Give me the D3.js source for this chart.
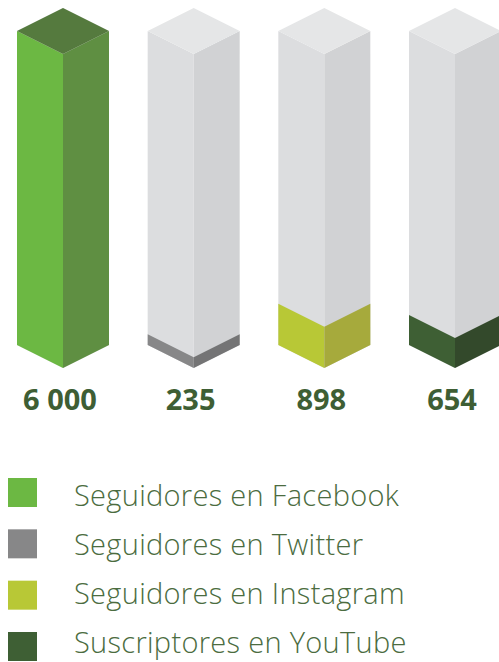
<!DOCTYPE html>
<html>
<head>
<meta charset="utf-8">
<script src="https://cdn.jsdelivr.net/npm/d3@7"></script>
<style>
  body { margin: 0; background: #fff; }
  svg { display: block; }
</style>
</head>
<body>
<svg id="chart"></svg>
<script>
var categories = ["Facebook", "Twitter", "Instagram", "YouTube"]
var values = [6000, 235, 898, 654]
var valueLabels = ["6 000", "235", "898", "654"]
var legendLabels = ["Seguidores en Facebook", "Seguidores en Twitter", "Seguidores en Instagram", "Suscriptores en YouTube"]
var leftColors = ["#6cb843", "#878788", "#b8c836", "#3e5f34"]
var rightColors = ["#5f8f42", "#747475", "#a6aa3c", "#33492b"]
var topColors = ["#557a3e", "#9a9a9b", "#c6d35a", "#4a6b3f"]

var width = 499
var height = 662

var svg = d3.select("#chart")
  .attr("width", width)
  .attr("height", height)

var halfW = 46
var dy = 23
var baseY = 345
var fullH = 314

// centres of the columns
var x = d3.scalePoint()
  .domain(categories)
  .range([63, 455])

// broken scale, like the original infographic
var h = d3.scaleLinear()
  .domain([0, 1000, 6000])
  .range([0, 46, fullH])

function leftFace(cx, y0, y1) {
  return [[cx - halfW, y0], [cx, y0 + dy], [cx, y1 + dy], [cx - halfW, y1]]
}
function rightFace(cx, y0, y1) {
  return [[cx, y0 + dy], [cx + halfW, y0], [cx + halfW, y1], [cx, y1 + dy]]
}
function topFace(cx, y0) {
  return [[cx - halfW, y0], [cx, y0 - dy], [cx + halfW, y0], [cx, y0 + dy]]
}
function pts(p) { return p.map(function(d) { return d.join(",") }).join(" ") }

var col = svg.selectAll(".col")
  .data(values)
  .enter().append("g")
  .attr("class", "col")

// grey background column
col.append("polygon").attr("fill", "#dcdddf")
  .attr("points", function(d, i) { return pts(leftFace(x(categories[i]), baseY - fullH, baseY)) })
col.append("polygon").attr("fill", "#d1d2d4")
  .attr("points", function(d, i) { return pts(rightFace(x(categories[i]), baseY - fullH, baseY)) })
col.append("polygon").attr("fill", "#e5e6e7")
  .attr("points", function(d, i) { return pts(topFace(x(categories[i]), baseY - fullH)) })

// coloured part
col.append("polygon")
  .attr("fill", function(d, i) { return leftColors[i] })
  .attr("points", function(d, i) { return pts(leftFace(x(categories[i]), baseY - h(d), baseY)) })
col.append("polygon")
  .attr("fill", function(d, i) { return rightColors[i] })
  .attr("points", function(d, i) { return pts(rightFace(x(categories[i]), baseY - h(d), baseY)) })
col.filter(function(d) { return h(d) >= fullH })
  .append("polygon")
  .attr("fill", function(d) { return topColors[values.indexOf(d)] })
  .attr("points", function(d) { return pts(topFace(x(categories[values.indexOf(d)]), baseY - h(d))) })

col.append("text")
  .attr("x", function(d, i) { return x(categories[i]) - 3 })
  .attr("y", 410)
  .attr("text-anchor", "middle")
  .attr("font-family", "'Open Sans', sans-serif")
  .attr("font-weight", 700)
  .attr("font-size", 29)
  .attr("fill", "#3e5e34")
  .text(function(d, i) { return valueLabels[i] })

// legend
var rowSq = d3.scalePoint().domain(legendLabels).range([478, 632])
var rowTx = d3.scalePoint().domain(legendLabels).range([506, 653])

var leg = svg.selectAll(".leg")
  .data(legendLabels)
  .enter().append("g")
  .attr("class", "leg")

leg.append("rect")
  .attr("x", 8)
  .attr("y", function(d) { return rowSq(d) })
  .attr("width", 29)
  .attr("height", 29)
  .attr("fill", function(d, i) { return leftColors[i] })

leg.append("text")
  .attr("x", 74)
  .attr("y", function(d) { return rowTx(d) })
  .attr("font-family", "'Open Sans', sans-serif")
  .attr("font-weight", 300)
  .attr("font-size", 29)
  .attr("letter-spacing", 0.3)
  .attr("fill", "#4b6c40")
  .text(function(d) { return d })
</script>
</body>
</html>
